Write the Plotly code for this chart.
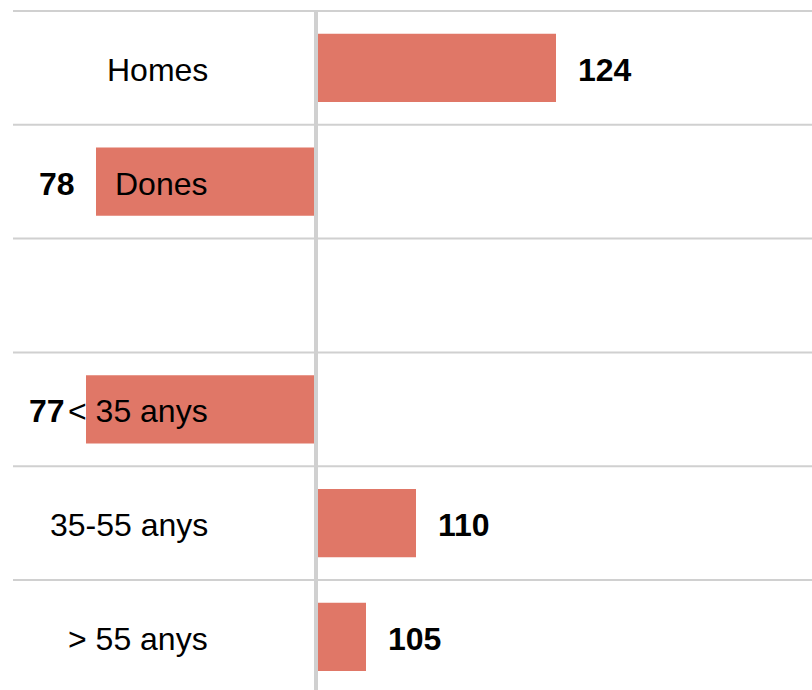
import plotly.graph_objects as go

categories = ["Homes", "Dones", "", "< 35 anys", "35-55 anys", "> 55 anys"]
values = [124, 78, None, 77, 110, 105]
baseline = 100

bar_color = "#e07767"
grid_color = "#d0d0d0"
font_family = "Liberation Sans, Arial, sans-serif"

W, H = 812, 690

ypos = list(range(len(categories)))
lengths = [None if v is None else v - baseline for v in values]

fig = go.Figure()
fig.add_trace(go.Bar(
    y=ypos, x=lengths, base=baseline, orientation="h",
    marker=dict(color=bar_color, line=dict(width=0)),
    width=0.6, hoverinfo="skip", showlegend=False,
))

annotations = []
for i, (cat, v) in enumerate(zip(categories, values)):
    if cat:
        annotations.append(dict(
            x=210 / W, xref="paper", y=i, yref="y", text=cat,
            xanchor="right", yanchor="middle", yshift=-2, showarrow=False,
            font=dict(family=font_family, size=32, color="#000000"),
        ))
    if v is not None:
        pos = v >= baseline
        annotations.append(dict(
            x=v, xref="x", y=i, yref="y", text="<b>%d</b>" % v,
            xanchor="left" if pos else "right", yanchor="middle",
            xshift=20 if pos else -19, yshift=-2, showarrow=False,
            font=dict(family=font_family, size=32, color="#000000"),
        ))

shapes = []
for k in range(len(categories) + 1):
    shapes.append(dict(
        type="line", xref="paper", yref="y", x0=13 / W, x1=1,
        y0=k - 0.5, y1=k - 0.5, line=dict(color=grid_color, width=2),
        layer="below",
    ))
shapes.append(dict(
    type="line", xref="x", yref="y", x0=baseline, x1=baseline,
    y0=-0.5, y1=len(categories), line=dict(color=grid_color, width=4),
    layer="above",
))

fig.update_layout(
    width=W, height=H,
    margin=dict(l=0, r=0, t=0, b=0),
    paper_bgcolor="white", plot_bgcolor="white",
    xaxis=dict(range=[68.4, 149.6], visible=False, showgrid=False, zeroline=False),
    yaxis=dict(range=[5.4666, -0.5967], visible=False, showgrid=False, zeroline=False),
    annotations=annotations, shapes=shapes,
    bargap=0.4,
)

fig.write_html(
    "out.html",
    config={"displayModeBar": False},
    post_script="document.body.style.margin='0';document.body.style.overflow='hidden';",
)
